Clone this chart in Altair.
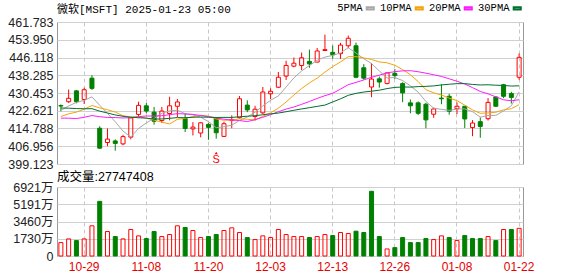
import altair as alt
import pandas as pd

dates = ["10-24","10-25","10-28","10-29","10-30","10-31","11-01","11-04","11-05","11-06",
         "11-07","11-08","11-11","11-12","11-13","11-14","11-15","11-18","11-19","11-20",
         "11-21","11-22","11-25","11-26","11-27","11-29","12-02","12-03","12-04","12-05",
         "12-06","12-09","12-10","12-11","12-12","12-13","12-16","12-17","12-18","12-19",
         "12-20","12-23","12-24","12-26","12-27","12-30","12-31","01-02","01-03","01-06",
         "01-07","01-08","01-10","01-13","01-14","01-15","01-16","01-17","01-21","01-22"]
opens = [424.9, 426.6, 431.4, 427.6, 437.0, 414.9, 408.6, 409.3, 408.0, 411.0,
         421.0, 424.8, 422.0, 418.3, 421.4, 424.6, 419.2, 414.6, 412.8, 416.6,
         419.4, 411.3, 418.3, 419.6, 425.1, 420.1, 421.7, 430.1, 433.0, 437.9,
         442.3, 442.6, 444.4, 444.1, 449.2, 448.4, 447.8, 451.3, 451.3, 441.6,
         433.1, 436.7, 434.7, 439.1, 434.6, 426.1, 426.1, 425.5, 421.1, 428.2,
         429.0, 423.5, 424.6, 415.2, 417.8, 419.1, 428.7, 434.1, 430.2, 437.4]
highs = [425.4, 432.0, 431.8, 432.8, 438.3, 415.8, 414.8, 410.0, 412.0, 419.8,
         426.6, 426.0, 424.3, 424.3, 428.8, 427.8, 421.5, 417.6, 417.6, 417.2,
         419.7, 417.8, 420.6, 429.1, 427.2, 424.8, 433.1, 432.5, 439.7, 444.7,
         446.1, 448.3, 449.6, 450.3, 456.2, 451.4, 452.6, 455.8, 452.7, 443.2,
         443.7, 437.7, 439.6, 441.0, 435.2, 427.6, 426.7, 426.1, 424.0, 434.3,
         430.1, 426.3, 424.7, 418.5, 419.7, 428.2, 429.0, 434.5, 431.0, 447.9]
lows = [422.4, 426.0, 425.9, 425.6, 431.8, 405.8, 407.0, 405.0, 407.4, 410.0,
        419.6, 421.5, 416.5, 417.2, 418.4, 419.8, 413.2, 411.7, 410.9, 409.8,
        410.3, 411.0, 414.9, 419.1, 422.0, 418.3, 421.2, 427.8, 432.6, 436.2,
        441.8, 440.6, 441.6, 444.0, 449.1, 445.6, 445.5, 450.3, 437.0, 436.3,
        428.6, 432.8, 434.2, 436.6, 426.4, 421.5, 420.7, 414.9, 419.5, 425.5,
        420.9, 421.1, 415.0, 411.4, 410.7, 418.3, 424.4, 428.2, 425.8, 436.3]
closes = [424.7, 428.1, 426.6, 431.9, 432.5, 406.1, 410.1, 408.2, 411.2, 419.5,
          425.0, 422.5, 418.0, 422.5, 424.8, 426.5, 414.8, 415.4, 417.3, 415.3,
          412.9, 416.9, 418.7, 427.9, 423.0, 423.3, 430.9, 431.2, 437.4, 442.6,
          443.6, 446.0, 443.3, 449.0, 449.6, 447.3, 451.6, 454.6, 437.4, 437.0,
          436.6, 435.3, 439.3, 438.1, 430.5, 424.8, 421.5, 418.6, 423.4, 427.9,
          422.4, 424.6, 419.0, 417.2, 415.7, 426.3, 424.6, 429.0, 428.5, 446.2]
volumes = [13450000, 17150000, 15470000, 17150000, 30270000, 54820000, 24550000, 19510000, 17150000, 26570000,
           20180000, 17490000, 24550000, 19510000, 21520000, 30270000, 28590000, 25560000, 18500000, 19510000,
           21520000, 25560000, 28250000, 23540000, 18500000, 16480000, 20180000, 18500000, 26570000, 21520000,
           19510000, 19510000, 18500000, 19510000, 21520000, 20510000, 23540000, 22530000, 24890000, 23540000,
           64910000, 19510000, 7060000, 8410000, 18500000, 13450000, 13450000, 17490000, 16480000, 20180000,
           18500000, 15470000, 20510000, 17490000, 17490000, 19510000, 15470000, 26570000, 26570000, 27747408]
# closes of the 29 sessions before the first shown day (feed the moving averages)
prior_closes = [430.59, 431.34, 435.15, 430.81, 438.69, 435.27, 433.51, 429.17, 432.11, 431.31,
                428.02, 430.30, 420.69, 417.13, 416.54, 416.06, 409.54, 414.71, 417.46, 415.84,
                416.32, 419.14, 418.74, 416.12, 416.72, 418.16, 418.78, 427.51, 424.60]

label_dates = ["10-29", "11-08", "11-20", "12-03", "12-13", "12-26", "01-08", "01-22"]
price_ticks = [399.123, 406.956, 414.788, 422.621, 430.453, 438.285, 446.118, 453.950, 461.783]
vol_ticks = [0, 17302000, 34604000, 51906000, 69208000]
ma_names = ["5PMA", "10PMA", "20PMA", "30PMA"]
ma_windows = [5, 10, 20, 30]
ma_colors = ["#a8a8a8", "#f4a40a", "#ff1aff", "#007030"]
dividend_dates = ["11-21"]
title_text = "微软[MSFT] 2025-01-23 05:00"

RED = "#ff0000"
GREEN = "#008000"
SANS = "Liberation Sans, Noto Sans CJK SC"
MONO = "Liberation Mono, Noto Sans CJK SC"

df = pd.DataFrame({"date": dates, "open": opens, "high": highs, "low": lows,
                   "close": closes, "volume": volumes})
df["up"] = df["close"] >= df["open"]
prev = [prior_closes[-1]] + closes[:-1]
df["vup"] = [c >= p for c, p in zip(closes, prev)]
df["top"] = df[["open", "close"]].max(axis=1)
df["bot"] = df[["open", "close"]].min(axis=1)

n_prior = len(prior_closes)
ma_src = pd.DataFrame({
    "idx": list(range(-n_prior, len(closes))),
    "date": [f"p{i}" for i in range(n_prior)] + dates,
    "close": prior_closes + closes,
})
ma_src["show"] = ma_src["idx"] >= 0

W = 466
xscale = alt.Scale(type="band", domain=dates, paddingInner=0, paddingOuter=0)
pscale = alt.Scale(domain=[price_ticks[0], price_ticks[-1]], nice=False, zero=False)
vscale = alt.Scale(domain=[vol_ticks[0], vol_ticks[-1]], nice=False, zero=False)

top_xaxis = alt.Axis(values=label_dates, labels=False, ticks=False, domain=False, grid=True,
                     gridDash=[4, 3], gridColor="#c8c8c8", title=None, bandPosition=0.5)
vol_xaxis = alt.Axis(values=label_dates, labels=True, ticks=False, domain=False, grid=True,
                     gridDash=[4, 3], gridColor="#c8c8c8", title=None, bandPosition=0.5,
                     labelColor="#e60000", labelFont=SANS, labelFontSize=12, labelPadding=5,
                     labelAngle=0)
pyaxis = alt.Axis(values=price_ticks, format=".3f", grid=True, gridColor="#d0d0d0", ticks=False,
                  domain=False, labelFont=SANS, labelFontSize=12.5, labelPadding=4, title=None,
                  labelColor="#222222", labelOverlap=False)
vyaxis = alt.Axis(values=vol_ticks, grid=True, gridColor="#d0d0d0", ticks=False, domain=False,
                  labelFont=SANS, labelFontSize=12.5, labelPadding=4, title=None,
                  labelColor="#222222", labelOverlap=False,
                  labelExpr="datum.value == 0 ? '0' : format(datum.value / 10000, '.0f') + '万'")

X = alt.X("date:N", scale=xscale, axis=top_xaxis, bandPosition=0.5)
base = alt.Chart(df)

wick_hi = base.mark_rule(strokeWidth=1).encode(
    x=X, y=alt.Y("high:Q", scale=pscale, axis=pyaxis), y2="top:Q",
    color=alt.condition("datum.up", alt.value(RED), alt.value(GREEN)))
wick_lo = base.mark_rule(strokeWidth=1).encode(
    x=X, y=alt.Y("bot:Q", scale=pscale, axis=pyaxis), y2="low:Q",
    color=alt.condition("datum.up", alt.value(RED), alt.value(GREEN)))
body = base.mark_bar(size=4, strokeWidth=1).encode(
    x=X, y=alt.Y("open:Q", scale=pscale, axis=pyaxis), y2="close:Q",
    fill=alt.condition("datum.up", alt.value("transparent"), alt.value(GREEN)),
    stroke=alt.condition("datum.up", alt.value(RED), alt.value(GREEN)))

ma = alt.Chart(ma_src)
for name, w in zip(ma_names, ma_windows):
    ma = ma.transform_window(**{name: "mean(close)"}, frame=[-(w - 1), 0],
                             sort=[alt.SortField("idx")])
ma_lines = ma.transform_filter("datum.show").transform_fold(
    ma_names, as_=["series", "value"]
).mark_line(strokeWidth=1).encode(
    x=X, y=alt.Y("value:Q", scale=pscale, axis=pyaxis),
    color=alt.Color("series:N", scale=alt.Scale(domain=ma_names, range=ma_colors),
                    legend=alt.Legend(orient="none", legendX=308, legendY=-19,
                                      direction="horizontal", title=None,
                                      symbolType="M-1,-0.3H1V0.3H-1Z", symbolSize=50,
                                      symbolStrokeWidth=2, labelFont=MONO, labelFontSize=10.5,
                                      labelColor="#000000", labelAlign="right",
                                      labelOffset={"expr": "-13"}, columnPadding=1)),
    order=alt.Order("idx:Q"))

div = alt.Chart(pd.DataFrame({"date": dividend_dates}))
div_s = div.mark_text(text="S", color=RED, fontSize=11, font=SANS).encode(
    x=X, y=alt.value(138))
div_t = div.mark_point(shape="triangle-up", size=10, filled=True, color=RED, opacity=1).encode(
    x=X, y=alt.value(131))

top = alt.layer(wick_hi, wick_lo, body, ma_lines, div_s, div_t).properties(
    width=W, height=142,
    title=alt.TitleParams(title_text, anchor="start", frame="group", font=MONO, fontSize=11,
                          fontWeight="normal", color="#000000", offset=1))

XV = alt.X("date:N", scale=xscale, axis=vol_xaxis, bandPosition=0.5)
vol = base.mark_bar(size=4, strokeWidth=1).encode(
    x=XV, y=alt.Y("volume:Q", scale=vscale, axis=vyaxis),
    fill=alt.condition("datum.vup", alt.value("transparent"), alt.value(GREEN)),
    stroke=alt.condition("datum.vup", alt.value(RED), alt.value(GREEN))
).properties(
    width=W, height=69,
    title=alt.TitleParams(f"成交量:{volumes[-1]}", anchor="start", frame="group", font=SANS,
                          fontSize=12.5, fontWeight="normal", color="#000000", offset=-2))

chart = alt.vconcat(top, vol, spacing=23, bounds="flush").properties(
    padding={"left": 7, "top": 3, "right": 5, "bottom": 5}
).configure(background="white", font=SANS).configure_view(stroke="#999999", strokeWidth=1)

chart.save("out.html", embed_options={"renderer": "svg", "actions": False})
